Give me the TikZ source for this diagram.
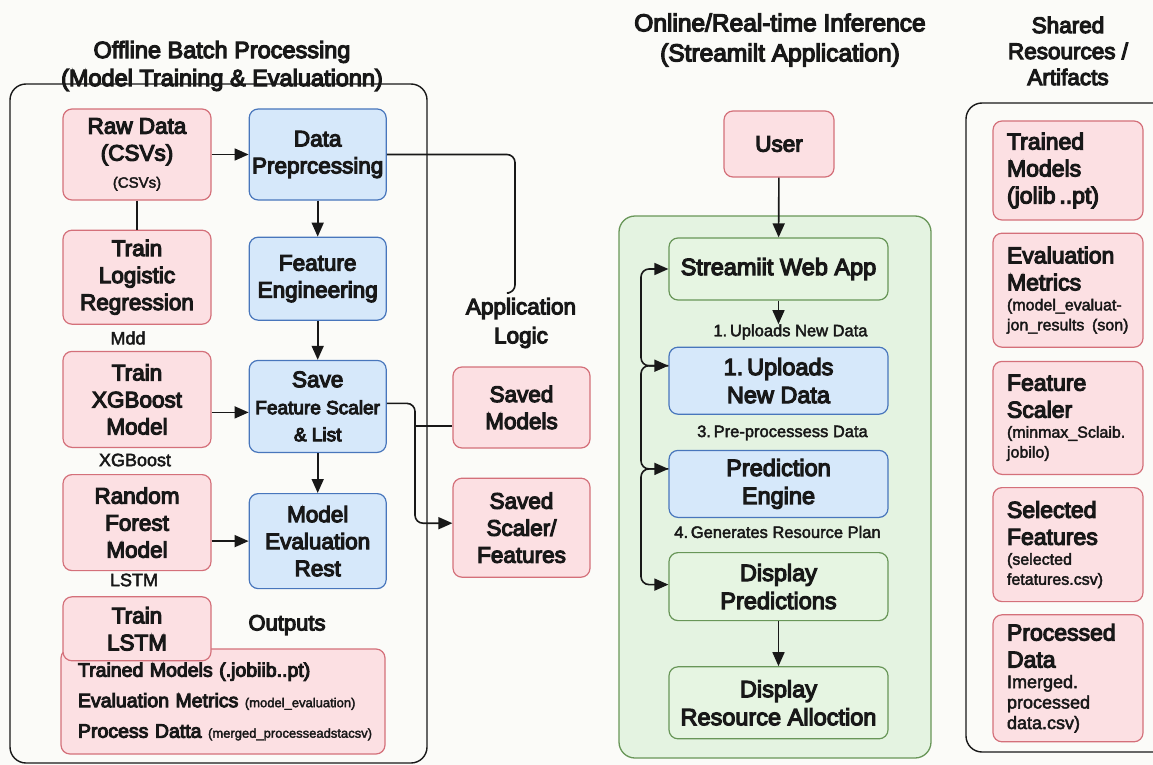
\documentclass[tikz,border=0pt]{standalone}
\usepackage{fontspec}
\setmainfont{Liberation Sans}
\newfontfamily\medfont{Liberation Sans}[FakeBold=5]
\newfontfamily\lightmed{Liberation Sans}[FakeBold=2.5]
\usepackage{xcolor}
\usetikzlibrary{arrows.meta}
\usetikzlibrary{positioning}
\definecolor{bgcol}{RGB}{251,251,248}
\definecolor{inkcol}{RGB}{24,24,24}
\definecolor{pinkfill}{RGB}{252,224,227}
\definecolor{pinkline}{RGB}{212,112,122}
\definecolor{bluefill}{RGB}{214,232,250}
\definecolor{blueline}{RGB}{72,118,188}
\definecolor{greenfill}{RGB}{230,245,226}
\definecolor{greenline}{RGB}{104,150,88}
\definecolor{panelgreen}{RGB}{228,243,225}
\tikzset{box/.style={rectangle,rounded corners=9pt,draw,line width=1.2pt,align=center,inner sep=0pt,font=\medfont\fontsize{22.5}{27}\selectfont}}
\tikzset{pink node/.style={box,fill=pinkfill,draw=pinkline}}
\tikzset{blue node/.style={box,fill=bluefill,draw=blueline}}
\tikzset{green node/.style={box,fill=greenfill,draw=greenline,font=\medfont\fontsize{23.5}{28}\selectfont}}
\tikzset{art node/.style={pink node,align=left,text width=122pt,inner xsep=14pt,minimum width=150pt,font=\medfont\fontsize{23}{27}\selectfont}}
\tikzset{flow/.style={-{Triangle[length=14pt,width=12pt]},line width=1.6pt}}
\tikzset{link/.style={line width=1.6pt}}
\tikzset{tag/.style={inner sep=0pt,font=\lightmed\fontsize{18}{22}\selectfont}}
\tikzset{heading/.style={inner sep=0pt,align=center,font=\medfont\fontsize{23.5}{28}\selectfont}}
\newcommand{\smalltxt}[1]{{\lightmed\fontsize{15}{18}\selectfont #1}}
\newcommand{\artsmall}{\lightmed\fontsize{16}{20}\selectfont}
\newcommand{\artnote}{\lightmed\fontsize{18}{20.5}\selectfont}
\newcommand{\outnote}[1]{{\lightmed\fontsize{13}{16}\selectfont #1}}

\begin{document}
\begin{tikzpicture}[x=1pt,y=-1pt,color=inkcol]
    \useasboundingbox (0,0) rectangle (1153,765);
    \fill[bgcol] (0,0) rectangle (1153,765);

    % headings
    \node[heading] (title_off) at (222,66) {Offline Batch Processing\\(Model Training \& Evaluationn)};
    \node[heading,font=\medfont\fontsize{24.5}{30}\selectfont] (title_on) at (780,40) {Online/Real-time Inference\\(Streamilt Application)};
    \node[heading,font=\medfont\fontsize{22.5}{26}\selectfont] (title_res) at (1068,51) {Shared\\Resources /\\Artifacts};

    % panels
    \draw[line width=1.4pt,rounded corners=16pt] (10,84) rectangle (427,763);
    \draw[draw=greenline,fill=panelgreen,line width=1.3pt,rounded corners=16pt] (619,216) rectangle (931,758);
    \draw[line width=1.4pt,rounded corners=16pt] (966,103) rectangle (1185,752);

    % offline batch processing
    \node[pink node,minimum width=324pt,minimum height=105pt,text width=302pt,inner xsep=11pt,align=left,font=\medfont\fontsize{19.5}{30.5}\selectfont] (outputs) at (223,701.5)
        {\mbox{\hspace{6pt}Trained Models (.jobiib..pt)}\\\mbox{\hspace{6pt}Evaluation Metrics \outnote{(model\_evaluation)}}\\\mbox{\hspace{6pt}Process Datta \outnote{(merged\_processeadstacsv)}}};
    \node[pink node,minimum width=148pt,minimum height=91pt] (rawdata) at (137,154.5) {Raw Data\\(CSVs)\\\smalltxt{(CSVs)}};
    \node[pink node,minimum width=148pt,minimum height=94pt] (logistic) [below = 29pt of rawdata] {Train\\Logistic\\Regression};
    \node[pink node,minimum width=148pt,minimum height=96pt] (xgboost) [below = 26pt of logistic] {Train\\XGBoost\\Model};
    \node[pink node,minimum width=148pt,minimum height=96pt] (rf) [below = 26pt of xgboost] {Random\\Forest\\Model};
    \node[pink node,minimum width=148pt,minimum height=64pt] (lstm) [below = 25pt of rf] {Train\\LSTM};

    \node[blue node,minimum width=137pt,minimum height=91pt] (dataprep) [right = 37pt of rawdata] {Data\\Preprcessing};
    \node[blue node,minimum width=137pt,minimum height=83pt] (featureeng) [below = 36pt of dataprep] {Feature\\Engineering};
    \node[blue node,minimum width=137pt,minimum height=92pt] (savebox) [below = 39pt of featureeng] {Save\\{\fontsize{19}{24}\selectfont Feature Scaler}\\{\fontsize{19}{24}\selectfont \& List}};
    \node[blue node,minimum width=137pt,minimum height=95pt] (modeleval) [below = 40pt of savebox] {Model\\Evaluation\\Rest};

    \node[tag] (mdd) at (128,338) {Mdd};
    \node[tag] (xgbtag) at (135,460) {XGBoost};
    \node[tag] (lstmtag) at (134,580) {LSTM};
    \node[heading,font=\medfont\fontsize{22}{27}\selectfont] (outlabel) at (287,625) {Outputs};

    \node[heading,font=\medfont\fontsize{22.5}{29}\selectfont] (applogic) at (521,323) {Application\\Logic};
    \node[pink node,minimum width=137pt,minimum height=81pt] (models) at (521.5,407.5) {Saved\\Models};
    \node[pink node,minimum width=137pt,minimum height=99pt] (scaler) [below = 29pt of models] {Saved\\Scaler/\\Features};

    \draw[flow] (rawdata) -- (dataprep);
    \draw[link] (rawdata) -- (logistic);
    \draw[flow] (dataprep) -- (featureeng);
    \draw[flow] (featureeng) -- (savebox);
    \draw[flow] (savebox) -- (modeleval);
    \coordinate (xgbout) at ([yshift=-13pt]xgboost.east);
    \draw[flow] (xgbout) -- (xgbout -| savebox.west);
    \draw[flow] (rf.east |- modeleval.west) -- (modeleval.west);

    \coordinate (appturn) at (515,293);
    \coordinate (apptick) at (509,293);
    \draw[link] (dataprep.east) [rounded corners=8pt] -| (appturn) [sharp corners] -- (apptick);

    \coordinate (bus) at (415,0);
    \coordinate (saveout) at ([yshift=3pt]savebox.east);
    \coordinate (scalerin) at ([yshift=4.5pt]scaler.west);
    \coordinate (modelsin) at ([yshift=-18.5pt]models.west);
    \draw[flow,rounded corners=8pt] (saveout) -- (bus |- saveout) -- (bus |- scalerin) -- (scalerin);
    \draw[link] (bus |- modelsin) -- (modelsin);

    % online inference
    \node[pink node,minimum width=110pt,minimum height=66pt] (user) at (779,144) {User};
    \node[green node,minimum width=219pt,minimum height=62pt] (streamlit) at (778.5,269) {Streamiit Web App};
    \node[blue node,minimum width=219pt,minimum height=67pt,font=\medfont\fontsize{23.5}{28}\selectfont] (uploads) [below = 46pt of streamlit] {1.\,Uploads\\New Data};
    \node[blue node,minimum width=219pt,minimum height=67pt,font=\medfont\fontsize{23.5}{28}\selectfont] (prediction) [below = 35pt of uploads] {Prediction\\Engine};
    \node[green node,minimum width=219pt,minimum height=68pt] (disppred) [below = 34pt of prediction] {Display\\Predictions};
    \node[green node,minimum width=219pt,minimum height=72pt] (dra) [below = 45pt of disppred] {Display\\Resource Alloction};

    \node[tag,font=\lightmed\fontsize{16.5}{20}\selectfont] (step_a) at (790.5,332) {1.\,Uploads New Data};
    \node[tag,font=\lightmed\fontsize{16.5}{20}\selectfont] (step_b) at (782.5,433) {3.\,Pre-processess Data};
    \node[tag,font=\lightmed\fontsize{16.5}{20}\selectfont] (step_c) at (777.5,532) {4.\,Generates Resource Plan};

    \draw[flow] (user) -- (streamlit);
    \draw[flow] (streamlit.south) -- (streamlit.south |- step_a.north);
    \draw[flow] (disppred) -- (dra);

    \coordinate (rail) at (641,0);
    \coordinate (upin) at ([yshift=15pt]uploads.west);
    \coordinate (predin) at ([yshift=15pt]prediction.west);
    \coordinate (dispin) at ([yshift=2pt]disppred.west);
    \draw[flow,{Triangle[length=14pt,width=12pt]}-{Triangle[length=14pt,width=12pt]},rounded corners=8pt] (streamlit.west) -- (rail |- streamlit.west) -- (rail |- upin) -- (upin);
    \draw[flow,rounded corners=8pt] (upin) -- (rail |- upin) -- (rail |- predin) -- (predin);
    \draw[flow,rounded corners=8pt] (predin) -- (rail |- predin) -- (rail |- dispin) -- (dispin);

    % shared resources
    \node[art node,minimum height=99pt] (res_models) at (1068,170.5) {Trained\\Models\\(jolib\,..pt)};
    \node[art node,minimum height=114pt] (res_metrics) [below = 12pt of res_models] {Evaluation\\Metrics\par{\artsmall (model\_evaluat-\\jon\_results (son)\par}};
    \node[art node,minimum height=113pt] (res_scaler) [below = 13pt of res_metrics] {Feature\\Scaler\par{\artsmall (minmax\_Sclaib.\\jobilo)\par}};
    \node[art node,minimum height=114pt] (res_features) [below = 12pt of res_scaler] {Selected\\Features\par{\artsmall (selected\\fetatures.csv)\par}};
    \node[art node,minimum height=127pt] (res_data) [below = 12pt of res_features] {Processed\\Data\par{\artnote Imerged.\\processed\\data.csv)\par}};
\end{tikzpicture}
\end{document}
